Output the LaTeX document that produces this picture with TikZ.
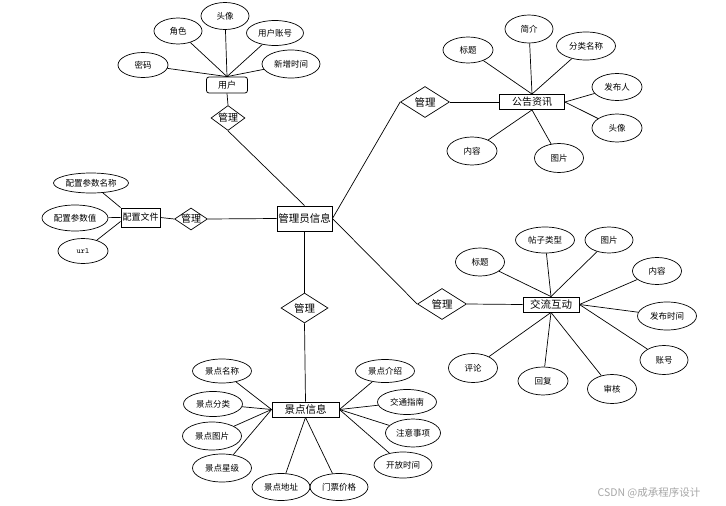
\documentclass[tikz,border=0pt]{standalone}
\usepackage{fontspec}
\setmainfont{Noto Sans CJK SC}
\usetikzlibrary{shapes.geometric,calc}
\tikzset{
  attr/.style={ellipse,draw,line width=0.7pt,inner sep=0pt,font=\fontsize{8.5}{9.5}\selectfont},
  ent/.style={rectangle,draw,line width=0.9pt,inner sep=0pt,font=\fontsize{10.5}{12}\selectfont},
  rel/.style={diamond,draw,line width=0.7pt,inner sep=0pt},
  lnk/.style={draw,line width=0.7pt},
}
\begin{document}
\begin{tikzpicture}[x=1pt,y=-1pt]
\useasboundingbox (0,0) rectangle (726,506);
% entities and relations
\node[ent,rounded corners=2.5pt,line width=0.8pt,minimum width=41pt,minimum height=16pt,font=\fontsize{9}{10}\selectfont] (user) at (227,85) {用户};
\node[rel,minimum width=34pt,minimum height=25pt,label={[font=\fontsize{10}{11}\selectfont]center:管理}] (muser) at (228,118) {};
\node[ent,minimum width=55pt,minimum height=25pt] (admin) at (304.5,218.5) {管理员信息};
\node[rel,minimum width=33pt,minimum height=22pt,label={[font=\fontsize{10}{11}\selectfont]center:管理}] (mcfg) at (191,219) {};
\node[ent,minimum width=39pt,minimum height=19pt,font=\fontsize{9}{10}\selectfont] (cfg) at (140.5,217.5) {配置文件};
\node[rel,minimum width=49pt,minimum height=31pt,label={[font=\fontsize{10.5}{12}\selectfont]center:管理}] (mnotice) at (425,102) {};
\node[ent,minimum width=65pt,minimum height=15pt,font=\fontsize{10}{11}\selectfont] (notice) at (532,102) {公告资讯};
\node[rel,minimum width=47pt,minimum height=30pt,label={[font=\fontsize{10.5}{12}\selectfont]center:管理}] (mspot) at (304.5,308) {};
\node[ent,minimum width=67pt,minimum height=15pt] (spot) at (305.5,409.5) {景点信息};
\node[rel,minimum width=49pt,minimum height=31pt,label={[font=\fontsize{10.5}{12}\selectfont]center:管理}] (mforum) at (442,304) {};
\node[ent,minimum width=56pt,minimum height=15pt] (forum) at (551,304.5) {交流互动};

\draw[lnk] (user.south) -- (muser.north);
\draw[lnk] (muser.south) -- (admin.north);
\draw[lnk] (cfg.east) -- (mcfg.west);
\draw[lnk] (mcfg.east) -- (admin.west);
\draw[lnk] (admin.east) -- (mnotice.west);
\draw[lnk] (mnotice.east) -- (notice.west);
\draw[lnk] (admin.east) -- (mforum.west);
\draw[lnk] (mforum.east) -- (forum.west);
\draw[lnk] (admin.south) -- (mspot.north);
\draw[lnk] (mspot.south) -- (spot.north);

% user attributes
\node[attr,minimum width=48pt,minimum height=27pt] (u1) at (225,16) {头像};
\node[attr,minimum width=48pt,minimum height=26pt] (u2) at (178,31) {角色};
\node[attr,minimum width=57pt,minimum height=25pt] (u3) at (275,33) {用户账号};
\node[attr,minimum width=50pt,minimum height=25pt] (u4) at (143,65) {密码};
\node[attr,minimum width=58pt,minimum height=28pt] (u5) at (291,64) {新增时间};
\foreach \a in {u1,u2,u3,u4,u5} \draw[lnk] (\a) -- (user.north);

% config attributes
\node[attr,minimum width=75pt,minimum height=20pt] (c1) at (91,183) {配置参数名称};
\node[attr,minimum width=66pt,minimum height=26pt] (c2) at (75,218) {配置参数值};
\node[attr,minimum width=50pt,minimum height=25pt,font=\ttfamily\fontsize{8}{9}\selectfont] (c3) at (83,251) {url};
\draw[lnk] (c1) -- (cfg.north west);
\draw[lnk] (c2) -- (cfg.west);
\draw[lnk] (c3) -- ($(cfg.west)+(0,4)$);

% notice attributes
\node[attr,minimum width=50pt,minimum height=26pt] (n1) at (468,50) {标题};
\node[attr,minimum width=48pt,minimum height=28pt] (n2) at (529,29) {简介};
\node[attr,minimum width=59pt,minimum height=28pt] (n3) at (586,46) {分类名称};
\node[attr,minimum width=50pt,minimum height=27pt] (n4) at (617,87) {发布人};
\node[attr,minimum width=50pt,minimum height=28pt] (n5) at (617,128) {头像};
\node[attr,minimum width=49pt,minimum height=29pt] (n6) at (559,158) {图片};
\node[attr,minimum width=50pt,minimum height=28pt] (n7) at (472,151) {内容};
\foreach \a in {n1,n2,n3} \draw[lnk] (\a) -- (notice.north);
\foreach \a in {n4,n5} \draw[lnk] (\a) -- (notice.east);
\foreach \a in {n6,n7} \draw[lnk] (\a) -- (notice.south);

% forum attributes
\node[attr,minimum width=49pt,minimum height=28pt] (f1) at (480,262) {标题};
\node[attr,minimum width=59pt,minimum height=26pt] (f2) at (545,240) {帖子类型};
\node[attr,minimum width=48pt,minimum height=26pt] (f3) at (609,240) {图片};
\node[attr,minimum width=49pt,minimum height=27pt] (f4) at (657,271) {内容};
\node[attr,minimum width=59pt,minimum height=28pt] (f5) at (667,316) {发布时间};
\node[attr,minimum width=48pt,minimum height=29pt] (f6) at (664,360) {账号};
\node[attr,minimum width=49pt,minimum height=29pt] (f7) at (612,389) {审核};
\node[attr,minimum width=50pt,minimum height=28pt] (f8) at (543,381) {回复};
\node[attr,minimum width=49pt,minimum height=29pt] (f9) at (473,368) {评论};
\foreach \a in {f1,f2,f3} \draw[lnk] (\a) -- (forum.north);
\foreach \a in {f4,f5,f6} \draw[lnk] (\a) -- (forum.east);
\foreach \a in {f7,f8,f9} \draw[lnk] (\a) -- (forum.south);

% spot attributes
\node[attr,minimum width=59pt,minimum height=24pt] (s1) at (222,371) {景点名称};
\node[attr,minimum width=59pt,minimum height=25pt] (s2) at (213,404) {景点分类};
\node[attr,minimum width=59pt,minimum height=28pt] (s3) at (212,436) {景点图片};
\node[attr,minimum width=59pt,minimum height=28pt] (s4) at (222,468) {景点星级};
\node[attr,minimum width=58pt,minimum height=27pt] (s5) at (281,487) {景点地址};
\node[attr,minimum width=58pt,minimum height=27pt] (s6) at (339,487) {门票价格};
\node[attr,minimum width=59pt,minimum height=23pt] (s7) at (385,371) {景点介绍};
\node[attr,minimum width=59pt,minimum height=25pt] (s8) at (407,402) {交通指南};
\node[attr,minimum width=55pt,minimum height=28pt] (s9) at (413,433) {注意事项};
\node[attr,minimum width=58pt,minimum height=26pt] (s10) at (403,465) {开放时间};
\foreach \a in {s1,s2,s3,s4} \draw[lnk] (\a) -- (spot.west);
\foreach \a in {s5,s6} \draw[lnk] (\a) -- (spot.south);
\foreach \a in {s7,s8,s9,s10} \draw[lnk] (\a) -- (spot.east);

% watermark
\node[text=black!35,font=\fontsize{10.5}{12}\selectfont,inner sep=0pt] (wm) at (649,493) {CSDN @成承程序设计};
\end{tikzpicture}
\end{document}
